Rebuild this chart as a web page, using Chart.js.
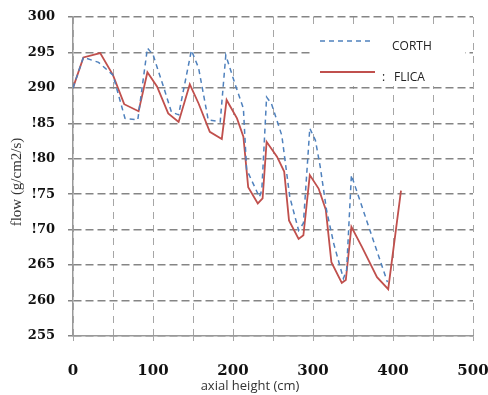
<!DOCTYPE html>
<html>
<head>
<meta charset="utf-8">
<script src="https://cdn.jsdelivr.net/npm/chart.js@4/dist/chart.umd.min.js"></script>
<style>
  html, body { margin: 0; padding: 0; background: #fff; }
  #wrap { width: 488px; height: 395px; position: relative; }
</style>
</head>
<body>
<div id="wrap"><canvas id="flowChart"></canvas></div>
<script>
// axial height (cm) / flow (g/cm2/s)
const corthX = [0, 13, 32, 50, 65, 81, 93, 100, 115, 123, 132, 148, 157, 169, 184, 191, 203, 213, 217, 233, 236, 242, 248, 261, 271, 282, 288, 296, 303, 309, 317, 326, 338, 342, 348, 353, 393];
const corthY = [290, 294.3, 293.6, 291.8, 285.7, 285.5, 295.6, 294.7, 289.5, 286.6, 286.2, 295.3, 292.8, 285.5, 285.2, 294.6, 290.4, 287.1, 278.5, 274.6, 275.6, 288.7, 287.8, 283.3, 274.6, 269.9, 270.9, 284.3, 282.6, 278.9, 272.7, 268.0, 263.1, 264.3, 277.7, 276.0, 262.6];

const flicaX = [0, 13, 34, 50, 64, 82, 93, 105, 119, 132, 146, 157, 171, 186, 192, 205, 213, 219, 231, 237, 242, 255, 264, 270, 282, 288, 296, 307, 316, 323, 336, 341, 348, 361, 380, 394, 410];
const flicaY = [290, 294.3, 294.9, 291.8, 287.7, 286.7, 292.2, 290.2, 286.4, 285.2, 290.5, 287.8, 283.8, 282.8, 288.3, 285.7, 283.1, 276.0, 273.7, 274.4, 282.4, 280.3, 278.2, 271.3, 268.7, 269.2, 277.7, 275.8, 272.8, 265.4, 262.5, 262.9, 270.4, 267.6, 263.3, 261.6, 275.5];

// tick labels as printed in the figure
const yTickValues = [300, 295, 290, 285, 280, 275, 270, 265, 260, 255];
const yTickLabels = ['300', '295', '290', '!85', '!80', '!75', '!70', '265', '260', '255'];
const xTickLabels = ['0', '100', '200', '300', '400', '500'];

const seriesNames = ['CORTH', 'FLICA'];
const blue = '#4f81bd';
const red = '#c0504d';

function toPoints(xs, ys) {
  return xs.map((x, i) => ({ x: x, y: ys[i] }));
}

// axis titles and the boxed legend inside the plot
const decorations = {
  id: 'decorations',
  afterDraw(chart) {
    const g = chart.ctx;
    g.save();

    // legend box
    g.fillStyle = '#fff';
    g.fillRect(310, 24, 155, 62);

    const ds = chart.data.datasets;
    g.lineWidth = 1.5;
    g.strokeStyle = ds[0].borderColor;
    g.setLineDash(ds[0].borderDash);
    g.beginPath();
    g.moveTo(320, 41);
    g.lineTo(372, 41);
    g.stroke();

    g.strokeStyle = ds[1].borderColor;
    g.setLineDash([]);
    g.lineWidth = 2;
    g.beginPath();
    g.moveTo(320, 72);
    g.lineTo(375, 72);
    g.stroke();

    g.fillStyle = '#222';
    g.font = '12px "Open Sans"';
    g.textBaseline = 'middle';
    g.textAlign = 'left';
    g.fillText(ds[0].label, 392, 47);
    g.fillText(':', 382, 78);
    g.fillText(ds[1].label, 394, 78);

    // x title
    g.fillStyle = '#333';
    g.font = '13px "Open Sans"';
    g.textAlign = 'center';
    g.fillText('axial height (cm)', 250, 386);

    // y title
    g.translate(17, 182);
    g.rotate(-Math.PI / 2);
    g.font = '15px "Liberation Serif"';
    g.fillText('flow (g/cm2/s)', 0, 0);

    g.restore();
  }
};

new Chart(document.getElementById('flowChart'), {
  type: 'line',
  data: {
    datasets: [{
      label: seriesNames[0],
      data: toPoints(corthX, corthY),
      borderColor: blue,
      borderWidth: 1.5,
      borderDash: [5, 4],
      pointRadius: 0,
      tension: 0
    }, {
      label: seriesNames[1],
      data: toPoints(flicaX, flicaY),
      borderColor: red,
      borderWidth: 1.8,
      pointRadius: 0,
      tension: 0
    }]
  },
  options: {
    maintainAspectRatio: false,
    animation: false,
    layout: { padding: { top: 17, right: 15, left: 0, bottom: 0 } },
    plugins: {
      legend: { display: false },
      tooltip: { enabled: false }
    },
    scales: {
      x: {
        type: 'linear',
        min: 0,
        max: 500,
        afterFit(scale) {
          scale.height = 59;
          scale.paddingLeft = 0;
          scale.paddingRight = 0;
        },
        ticks: {
          stepSize: 50,
          autoSkip: false,
          maxRotation: 0,
          padding: 21,
          color: '#111',
          font: { family: '"DejaVu Serif"', size: 15, weight: 'bold' },
          callback(value) {
            const i = xTickLabels.indexOf(String(value));
            return i >= 0 ? xTickLabels[i] : '';
          }
        },
        grid: { color: '#a6a6a6', lineWidth: 1, tickLength: 5 },
        border: { display: true, color: '#999', width: 1.5, dash: [7, 6] }
      },
      y: {
        min: 255,
        max: 300,
        afterFit(scale) {
          scale.width = 73;
          scale.paddingTop = 0;
          scale.paddingBottom = 0;
        },
        afterBuildTicks(scale) {
          scale.ticks = yTickValues.slice().reverse().map(v => ({ value: v }));
        },
        ticks: {
          padding: 13,
          color: '#111',
          font: { family: '"DejaVu Serif"', size: 13, weight: 'bold' },
          callback(value) {
            const i = yTickValues.indexOf(value);
            return i >= 0 ? yTickLabels[i] : '';
          }
        },
        grid: { color: '#858585', lineWidth: 1.5, tickLength: 5 },
        border: { display: true, color: '#999', width: 1.5, dash: [8, 4] }
      }
    }
  },
  plugins: [decorations]
});
</script>
</body>
</html>
